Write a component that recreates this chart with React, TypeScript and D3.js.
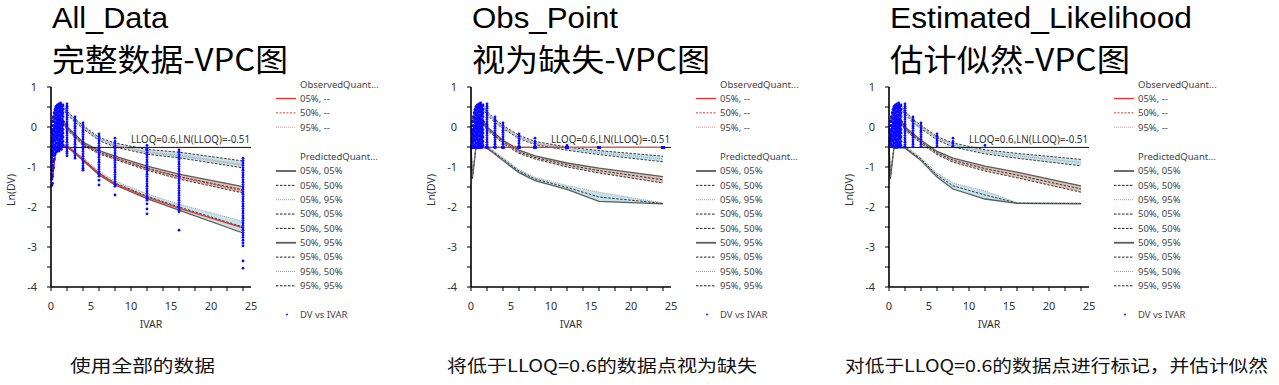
import * as d3 from "d3";

// ln(LLOQ) for LLOQ = 0.6
const LLOQ = -0.51;

// time bins used for the VPC quantiles
const binTimes = [0.03, 0.17, 0.6, 1, 1.5, 2, 3, 4, 6, 8, 12, 16, 24];

// ---- All_Data: predicted quantile bands (lo / median / hi of each simulated quantile) + observed
const allP05Lo = [-0.62, -1.32, -0.58, -0.52, -0.5, -0.5, -0.66, -0.84, -1.2, -1.45, -1.79, -2.08, -2.65];
const allP05Med = [-0.58, -1.28, -0.55, -0.5, -0.47, -0.47, -0.63, -0.8, -1.15, -1.4, -1.73, -2.0, -2.5];
const allP05Hi = [-0.54, -1.24, -0.52, -0.47, -0.44, -0.44, -0.6, -0.76, -1.1, -1.35, -1.67, -1.93, -2.36];
const allObs05 = [-0.6, -1.3, -0.56, -0.5, -0.47, -0.48, -0.64, -0.81, -1.16, -1.42, -1.75, -2.03, -2.52];
const allP50Lo = [-0.5, -0.3, 0.06, 0.16, 0.11, -0.07, -0.26, -0.46, -0.67, -0.81, -1.08, -1.3, -1.65];
const allP50Med = [-0.45, -0.25, 0.1, 0.2, 0.15, -0.03, -0.22, -0.42, -0.63, -0.77, -1.03, -1.24, -1.57];
const allP50Hi = [-0.4, -0.2, 0.14, 0.24, 0.19, 0.01, -0.18, -0.38, -0.59, -0.73, -0.98, -1.18, -1.49];
const allObs50 = [-0.44, -0.24, 0.1, 0.2, 0.15, -0.04, -0.23, -0.43, -0.64, -0.78, -1.04, -1.25, -1.6];
const allP95Lo = [-0.1, 0.1, 0.38, 0.48, 0.46, 0.32, 0.12, -0.04, -0.34, -0.5, -0.68, -0.77, -1.02];
const allP95Med = [-0.05, 0.15, 0.42, 0.52, 0.5, 0.36, 0.16, 0.0, -0.3, -0.45, -0.62, -0.7, -0.94];
const allP95Hi = [0.0, 0.2, 0.46, 0.56, 0.54, 0.4, 0.2, 0.04, -0.26, -0.4, -0.56, -0.63, -0.85];
const allObs95 = [-0.03, 0.17, 0.44, 0.54, 0.52, 0.37, 0.17, 0.0, -0.3, -0.46, -0.64, -0.72, -0.96];

// ---- Obs_Point: BLQ values treated as missing
const missP05Lo = [-0.58, -1.3, -0.55, -0.52, -0.52, -0.53, -0.68, -0.84, -1.14, -1.34, -1.56, -1.86, -1.92];
const missP05Med = [-0.55, -1.27, -0.52, -0.5, -0.5, -0.5, -0.65, -0.8, -1.1, -1.3, -1.51, -1.75, -1.91];
const missP05Hi = [-0.52, -1.24, -0.5, -0.48, -0.48, -0.47, -0.62, -0.76, -1.06, -1.26, -1.46, -1.63, -1.9];
const missObs05 = [-0.51, -0.51, -0.51, -0.51, -0.51, -0.51, -0.51, -0.51, -0.51, -0.51, -0.51, -0.51, -0.51];
const missP50Lo = [-0.5, -0.3, 0.06, 0.16, 0.11, -0.08, -0.24, -0.41, -0.66, -0.8, -1.0, -1.15, -1.4];
const missP50Med = [-0.45, -0.25, 0.1, 0.2, 0.15, -0.04, -0.2, -0.37, -0.62, -0.76, -0.95, -1.09, -1.32];
const missP50Hi = [-0.4, -0.2, 0.14, 0.24, 0.19, 0.0, -0.16, -0.33, -0.58, -0.72, -0.9, -1.03, -1.24];
const missObs50 = [-0.44, -0.24, 0.1, 0.2, 0.15, -0.04, -0.21, -0.38, -0.51, -0.51, -0.51, -0.51, -0.51];
const missP95Lo = [-0.1, 0.1, 0.38, 0.48, 0.46, 0.31, 0.11, -0.04, -0.29, -0.44, -0.58, -0.69, -0.87];
const missP95Med = [-0.05, 0.15, 0.42, 0.52, 0.5, 0.35, 0.15, 0.0, -0.25, -0.4, -0.54, -0.64, -0.8];
const missP95Hi = [0.0, 0.2, 0.46, 0.56, 0.54, 0.39, 0.19, 0.04, -0.21, -0.36, -0.5, -0.59, -0.73];
const missObs95 = [-0.03, 0.17, 0.44, 0.54, 0.52, 0.37, 0.17, 0.0, -0.27, -0.43, -0.51, -0.51, -0.51];

// ---- Estimated_Likelihood: BLQ values flagged, likelihood estimated
const likeP05Lo = [-0.58, -1.3, -0.55, -0.52, -0.52, -0.53, -0.68, -0.84, -1.25, -1.55, -1.8, -1.91, -1.92];
const likeP05Med = [-0.55, -1.27, -0.52, -0.5, -0.5, -0.5, -0.65, -0.8, -1.2, -1.47, -1.7, -1.9, -1.91];
const likeP05Hi = [-0.52, -1.24, -0.5, -0.48, -0.48, -0.47, -0.62, -0.76, -1.15, -1.4, -1.6, -1.89, -1.9];
const likeObs05 = [null, null, null, null, null, null, null, null, null, null, null, null, null];
const likeP50Lo = [-0.5, -0.3, 0.06, 0.16, 0.11, -0.08, -0.24, -0.41, -0.69, -0.88, -1.1, -1.27, -1.63];
const likeP50Med = [-0.45, -0.25, 0.1, 0.2, 0.15, -0.04, -0.2, -0.37, -0.65, -0.83, -1.04, -1.2, -1.55];
const likeP50Hi = [-0.4, -0.2, 0.14, 0.24, 0.19, 0.0, -0.16, -0.33, -0.61, -0.78, -0.98, -1.13, -1.47];
const likeObs50 = [-0.44, -0.24, 0.1, 0.2, 0.15, -0.04, -0.21, -0.38, null, null, null, null, null];
const likeP95Lo = [-0.1, 0.1, 0.38, 0.48, 0.46, 0.32, 0.11, -0.04, -0.32, -0.5, -0.67, -0.78, -0.97];
const likeP95Med = [-0.05, 0.15, 0.42, 0.52, 0.5, 0.36, 0.15, 0.0, -0.28, -0.45, -0.62, -0.72, -0.89];
const likeP95Hi = [0.0, 0.2, 0.46, 0.56, 0.54, 0.4, 0.19, 0.04, -0.24, -0.4, -0.57, -0.66, -0.81];
const likeObs95 = [-0.03, 0.17, 0.44, 0.54, 0.52, 0.37, 0.17, 0.0, -0.27, -0.43, null, null, null];

// ---- observed Ln(DV) by time
const earlyTimes = [0.1, 0.2, 0.3, 0.4, 0.5, 0.6, 0.7, 0.8, 0.9, 1.0, 1.1, 1.2, 1.3, 1.4, 1.5];
const earlyDV = [
  [-0.06, -0.14, -0.27, -0.35, -0.46, -0.58, -0.66, -0.77, -0.88, -0.97, -1.08, -1.19, -1.31, -1.46],
  [0.14, 0.03, -0.09, -0.2, -0.31, -0.4, -0.52, -0.63, -0.71, -0.84, -0.96, -1.09, -1.24, -1.41],
  [0.26, 0.16, 0.04, -0.06, -0.17, -0.26, -0.36, -0.49, -0.59, -0.72, -0.86, -1.02],
  [0.36, 0.24, 0.13, 0.01, -0.09, -0.21, -0.31, -0.44, -0.54, -0.67, -0.81],
  [0.44, 0.34, 0.21, 0.11, -0.01, -0.12, -0.23, -0.34, -0.46, -0.57, -0.69],
  [0.5, 0.41, 0.29, 0.19, 0.07, -0.04, -0.16, -0.26, -0.39, -0.5, -0.64],
  [0.52, 0.43, 0.33, 0.23, 0.11, 0.01, -0.11, -0.21, -0.31, -0.41, -0.52, -0.61],
  [0.55, 0.46, 0.36, 0.24, 0.14, 0.04, -0.06, -0.16, -0.27, -0.39, -0.49, -0.6],
  [0.54, 0.47, 0.38, 0.28, 0.17, 0.08, -0.03, -0.13, -0.22, -0.34, -0.45, -0.56],
  [0.58, 0.49, 0.39, 0.31, 0.21, 0.1, 0.01, -0.09, -0.21, -0.31, -0.41, -0.51, -0.6],
  [0.56, 0.45, 0.37, 0.26, 0.15, 0.06, -0.05, -0.14, -0.24, -0.36, -0.47, -0.55],
  [0.6, 0.51, 0.41, 0.29, 0.2, 0.11, 0.0, -0.11, -0.19, -0.31, -0.42, -0.54],
  [0.55, 0.47, 0.35, 0.27, 0.16, 0.05, -0.04, -0.16, -0.26, -0.37, -0.47, -0.56],
  [0.51, 0.4, 0.31, 0.2, 0.1, 0.0, -0.1, -0.21, -0.3, -0.41, -0.5],
  [0.55, 0.44, 0.35, 0.26, 0.14, 0.05, -0.06, -0.15, -0.25, -0.36, -0.46],
];
const sampleTimes = [2, 3, 4, 6, 8, 12, 16, 24];
const sampleDV = [
  [0.58, 0.52, 0.47, 0.41, 0.35, 0.3, 0.24, 0.19, 0.13, 0.07, 0.02, -0.04, -0.1, -0.15, -0.21, -0.27, -0.32, -0.38, -0.44, -0.49, -0.55, -0.61, -0.66, -0.72],
  [0.25, 0.19, 0.14, 0.08, 0.02, -0.03, -0.09, -0.15, -0.2, -0.26, -0.32, -0.37, -0.43, -0.49, -0.55, -0.6, -0.66, -0.72, -0.78],
  [0.1, 0.04, -0.02, -0.08, -0.13, -0.19, -0.25, -0.31, -0.37, -0.43, -0.49, -0.55, -0.61, -0.67, -0.73, -0.79, -0.85, -0.91, -0.97, -1.03, -1.08],
  [-0.17, -0.23, -0.29, -0.35, -0.41, -0.47, -0.53, -0.58, -0.64, -0.7, -0.76, -0.82, -0.88, -0.94, -1.0, -1.06, -1.12, -1.17, -1.23, -1.33, -1.45],
  [-0.28, -0.36, -0.41, -0.47, -0.53, -0.59, -0.65, -0.71, -0.77, -0.83, -0.89, -0.95, -1.01, -1.07, -1.13, -1.19, -1.25, -1.31, -1.37, -1.43, -1.48, -1.7],
  [-0.46, -0.53, -0.58, -0.64, -0.7, -0.76, -0.82, -0.88, -0.94, -1.0, -1.06, -1.12, -1.18, -1.24, -1.3, -1.36, -1.42, -1.48, -1.54, -1.6, -1.66, -1.72, -1.78, -1.83, -1.92, -2.05, -2.17],
  [-0.57, -0.63, -0.69, -0.75, -0.81, -0.87, -0.93, -0.99, -1.05, -1.11, -1.17, -1.23, -1.29, -1.35, -1.41, -1.47, -1.53, -1.59, -1.65, -1.71, -1.77, -1.83, -1.89, -1.95, -2.01, -2.07, -2.12, -2.58],
  [-0.78, -0.84, -0.9, -0.96, -1.02, -1.08, -1.14, -1.2, -1.26, -1.32, -1.38, -1.44, -1.5, -1.56, -1.62, -1.68, -1.74, -1.8, -1.86, -1.92, -1.98, -2.04, -2.1, -2.16, -2.22, -2.28, -2.34, -2.4, -2.46, -2.52, -2.58, -2.64, -2.7, -2.76, -2.83, -2.9, -2.97, -3.35, -3.53],
];

const observedLabels = ["05%, --", "50%, --", "95%, --"];
const predictedLabels = [
  "05%, 05%", "05%, 50%", "05%, 95%",
  "50%, 05%", "50%, 50%", "50%, 95%",
  "95%, 05%", "95%, 50%", "95%, 95%",
];

type Stroke = { stroke: string; width: number; dash?: string };
const solidGrey: Stroke = { stroke: "#5c5c5c", width: 1.3 };
const dashBlack: Stroke = { stroke: "#222", width: 0.9, dash: "2.5,1.5" };
const dotGrey: Stroke = { stroke: "#9a9a9a", width: 0.9, dash: "1,1" };

// line styles for [lo, med, hi] of each predicted quantile, same order as legend
const predStyles: Stroke[][] = [
  [solidGrey, dashBlack, dotGrey],
  [dashBlack, dashBlack, solidGrey],
  [dashBlack, dotGrey, dashBlack],
];
const obsStyles: Stroke[] = [
  { stroke: "#e8302c", width: 1.3 },
  { stroke: "#d83a36", width: 1, dash: "2,1.5" },
  { stroke: "#f08c8a", width: 1, dash: "1,1" },
];
const bandFills = ["#c6e2ea", "#dcc0b8", "#c6e2ea"];

type Band = { lo: number[]; med: number[]; hi: number[]; obs: (number | null)[] };
type PanelCfg = {
  left: number;
  title: string;
  subtitle: string;
  caption: string;
  titleW: number;
  subW: number;
  capX: number;
  capW: number;
  mode: "all" | "clamp" | "drop";
  bands: Band[];
};

const panels: PanelCfg[] = [
  {
    left: 51, title: "All_Data", subtitle: "完整数据-VPC图", caption: "使用全部的数据",
    titleW: 116, subW: 236, capX: 70, capW: 145, mode: "all",
    bands: [
      { lo: allP05Lo, med: allP05Med, hi: allP05Hi, obs: allObs05 },
      { lo: allP50Lo, med: allP50Med, hi: allP50Hi, obs: allObs50 },
      { lo: allP95Lo, med: allP95Med, hi: allP95Hi, obs: allObs95 },
    ],
  },
  {
    left: 471, title: "Obs_Point", subtitle: "视为缺失-VPC图", caption: "将低于LLOQ=0.6的数据点视为缺失",
    titleW: 146, subW: 238, capX: 447, capW: 310, mode: "clamp",
    bands: [
      { lo: missP05Lo, med: missP05Med, hi: missP05Hi, obs: missObs05 },
      { lo: missP50Lo, med: missP50Med, hi: missP50Hi, obs: missObs50 },
      { lo: missP95Lo, med: missP95Med, hi: missP95Hi, obs: missObs95 },
    ],
  },
  {
    left: 889, title: "Estimated_Likelihood", subtitle: "估计似然-VPC图", caption: "对低于LLOQ=0.6的数据点进行标记，并估计似然",
    titleW: 302, subW: 240, capX: 845, capW: 423, mode: "drop",
    bands: [
      { lo: likeP05Lo, med: likeP05Med, hi: likeP05Hi, obs: likeObs05 },
      { lo: likeP50Lo, med: likeP50Med, hi: likeP50Hi, obs: likeObs50 },
      { lo: likeP95Lo, med: likeP95Med, hi: likeP95Hi, obs: likeObs95 },
    ],
  },
];

const PLOT_TOP = 87;
const PLOT_W = 200;
const PLOT_H = 200;
const smallFont = "'Noto Sans', 'DejaVu Sans', sans-serif";
const titleFont = "'Liberation Sans', Arial, sans-serif";
const cjkFont = "'Noto Sans CJK SC', 'Noto Sans', sans-serif";

function observedPoints(mode: PanelCfg["mode"]) {
  const pts: [number, number][] = [];
  earlyTimes.forEach((t, i) => earlyDV[i].forEach((v) => pts.push([t, v])));
  sampleTimes.forEach((t, i) => sampleDV[i].forEach((v) => pts.push([t, v])));
  if (mode === "clamp") return pts.map(([t, v]) => [t, Math.max(v, LLOQ)] as [number, number]);
  if (mode === "drop") return pts.filter(([, v]) => v >= LLOQ);
  return pts;
}

function Panel({ cfg }: { cfg: PanelCfg }) {
  const x = d3.scaleLinear().domain([0, 25]).range([0, PLOT_W]);
  const y = d3.scaleLinear().domain([-4, 1]).range([PLOT_H, 0]);

  const lineOf = (vals: (number | null)[]) =>
    d3
      .line<number>()
      .defined((_, i) => vals[i] != null)
      .x((t) => x(t))
      .y((_, i) => y(vals[i] as number))(binTimes) || "";

  const areaOf = (b: Band) =>
    d3
      .area<number>()
      .x((t) => x(t))
      .y0((_, i) => y(b.lo[i]))
      .y1((_, i) => y(b.hi[i]))(binTimes) || "";

  const pts = observedPoints(cfg.mode);
  const legX = cfg.left + 225;

  return (
    <g>
      <text x={cfg.left + 1} y={28} fontFamily={titleFont} fontSize={29} fill="#000"
        textLength={cfg.titleW} lengthAdjust="spacingAndGlyphs">{cfg.title}</text>
      <text x={cfg.left + 1} y={71} fontFamily={cjkFont} fontSize={31} fill="#000"
        textLength={cfg.subW} lengthAdjust="spacingAndGlyphs">{cfg.subtitle}</text>

      <g transform={`translate(${cfg.left},${PLOT_TOP})`}>
        {cfg.bands.map((b, i) => (
          <path key={`a${i}`} d={areaOf(b)} fill={bandFills[i]} stroke="none" />
        ))}
        {cfg.bands.map((b, i) =>
          [b.lo, b.med, b.hi].map((vals, j) => {
            const s = predStyles[i][j];
            return (
              <path key={`p${i}${j}`} d={lineOf(vals)} fill="none" stroke={s.stroke}
                strokeWidth={s.width} strokeDasharray={s.dash} />
            );
          })
        )}
        <line x1={x(0)} x2={x(25)} y1={y(LLOQ)} y2={y(LLOQ)} stroke="#111" strokeWidth={1} />
        {cfg.bands.map((b, i) => (
          <path key={`o${i}`} d={lineOf(b.obs)} fill="none" stroke={obsStyles[i].stroke}
            strokeWidth={obsStyles[i].width} strokeDasharray={obsStyles[i].dash} />
        ))}
        {pts.map(([t, v], k) => (
          <circle key={k} cx={x(t)} cy={y(v)} r={1.4} fill="#0a0aff" />
        ))}
        <text x={x(25) - 1} y={y(LLOQ) - 4} textAnchor="end" fontFamily={smallFont}
          fontSize={10.5} fill="#333" textLength={119} lengthAdjust="spacingAndGlyphs">
          LLOQ=0.6,LN(LLOQ)=-0.51
        </text>

        {/* axes */}
        <line x1={0} x2={0} y1={0} y2={PLOT_H} stroke="#000" strokeWidth={1.6} />
        <line x1={0} x2={PLOT_W} y1={PLOT_H} y2={PLOT_H} stroke="#000" strokeWidth={1.6} />
        {y.ticks(10).map((v) => (
          <line key={`yt${v}`} x1={-4} x2={0} y1={y(v)} y2={y(v)} stroke="#000" strokeWidth={1} />
        ))}
        {y.ticks(5).map((v) => (
          <text key={`yl${v}`} x={-14} y={y(v)} dy="0.35em" textAnchor="end"
            fontFamily={smallFont} fontSize={11} fill="#333">{v}</text>
        ))}
        {x.ticks(10).map((v) => (
          <line key={`xt${v}`} x1={x(v)} x2={x(v)} y1={PLOT_H} y2={PLOT_H + 4} stroke="#000" strokeWidth={1} />
        ))}
        {x.ticks(5).map((v) => (
          <text key={`xl${v}`} x={x(v)} y={PLOT_H + 23} textAnchor="middle"
            fontFamily={smallFont} fontSize={11} fill="#333">{v}</text>
        ))}
        <text x={PLOT_W / 2} y={PLOT_H + 41} textAnchor="middle" fontFamily={smallFont}
          fontSize={10.5} fill="#333">IVAR</text>
        <text transform={`translate(-36,${103}) rotate(-90)`} textAnchor="middle"
          fontFamily={smallFont} fontSize={10.5} fill="#333">Ln(DV)</text>
      </g>

      {/* legend */}
      <g fontFamily={smallFont} fontSize={9.5} fill="#444">
        <text x={legX + 24} y={84.5} dy="0.35em">ObservedQuant...</text>
        {observedLabels.map((lab, i) => {
          const cy = 98.5 + i * 14.35;
          const s = obsStyles[i];
          return (
            <g key={lab}>
              <line x1={legX} x2={legX + 20} y1={cy} y2={cy} stroke={s.stroke}
                strokeWidth={s.width} strokeDasharray={s.dash} />
              <text x={legX + 24} y={cy} dy="0.35em">{lab}</text>
            </g>
          );
        })}
        <text x={legX + 24} y={156.5} dy="0.35em">PredictedQuant...</text>
        {predictedLabels.map((lab, i) => {
          const cy = 171 + i * 14.35;
          const s = predStyles[Math.floor(i / 3)][i % 3];
          return (
            <g key={lab}>
              <line x1={legX} x2={legX + 20} y1={cy} y2={cy} stroke={s.stroke}
                strokeWidth={s.width === 1.3 ? 1.8 : 1} strokeDasharray={s.dash} />
              <text x={legX + 24} y={cy} dy="0.35em">{lab}</text>
            </g>
          );
        })}
        <circle cx={legX + 11} cy={314.5} r={0.9} fill="#0a0aff" />
        <text x={legX + 24} y={314.5} dy="0.35em">DV vs IVAR</text>
      </g>

      <text x={cfg.capX} y={372} fontFamily={cjkFont} fontSize={17} fill="#111"
        textLength={cfg.capW} lengthAdjust="spacingAndGlyphs">{cfg.caption}</text>
    </g>
  );
}

export default function App() {
  return (
    <svg width={1279} height={385} style={{ position: "absolute", left: 0, top: 0, background: "#fff" }}>
      {panels.map((p) => (
        <Panel key={p.title} cfg={p} />
      ))}
    </svg>
  );
}
